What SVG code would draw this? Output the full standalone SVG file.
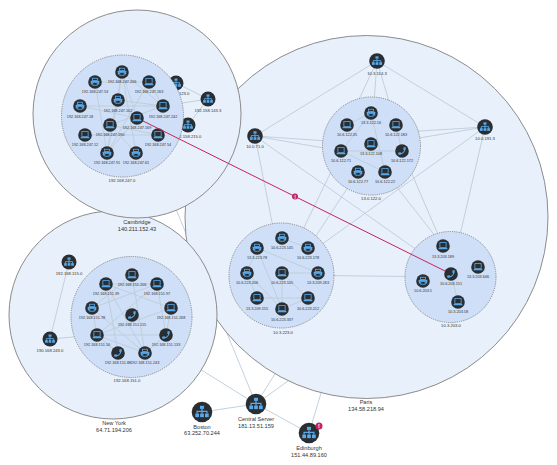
<svg xmlns="http://www.w3.org/2000/svg" width="557" height="465" viewBox="0 0 557 465">
<style>
text{font-family:"Liberation Sans",Arial,sans-serif;text-anchor:middle;fill:#333}
.s{font-size:3.8px}.m{font-size:4.2px}.l{font-size:5.6px}
.outer{fill:#e8f0fb;stroke:#8c8c8c;stroke-width:1}
.inner{fill:#cfdff7;stroke:#777;stroke-width:.8;stroke-dasharray:1.2 1}
.e{stroke:#bccdd8;stroke-width:.9;fill:none}
.dk{fill:#2b2e31}.ic{fill:#58a9ea}.icl{fill:none;stroke:#58a9ea;stroke-width:1.2}
.red{stroke:#c2255f;stroke-width:1;fill:none}
.badge{fill:#c2255f}.bt{fill:#fff;font-weight:bold}
</style>
<defs>
<g id="net"><circle class="dk" r="10"/><rect class="ic" x="-2" y="-6" width="4" height="3"/><path class="icl" d="M0-3V-.5M-4.800 1.500V-.5H4.800V1.500M0-.5V1.500"/><rect class="ic" x="-6.500" y="1.500" width="3.600" height="3.500"/><rect class="ic" x="-1.800" y="1.500" width="3.600" height="3.500"/><rect class="ic" x="2.900" y="1.500" width="3.600" height="3.500"/></g>
<g id="lap"><circle class="dk" r="10"/><rect class="icl" x="-4.600" y="-5" width="9.200" height="7.400"/><rect class="ic" x="-6.500" y="3" width="13" height="1.900" rx=".6"/></g>
<g id="prn"><circle class="dk" r="10"/><rect class="icl" x="-3.800" y="-5.500" width="7.600" height="3.200"/><rect class="ic" x="-6.200" y="-2" width="12.400" height="5.800" rx="1"/><rect x="-3.600" y="0" width="7.200" height="4.800" fill="#2b2e31"/><rect class="icl" x="-3.200" y=".6" width="6.400" height="4.200"/></g>
<g id="tel"><circle class="dk" r="10"/><path class="ic" transform="scale(-.62 .62) translate(-12 -12)" d="M6.620 10.790c1.440 2.830 3.760 5.140 6.590 6.590l2.200-2.200c.27-.27.67-.36 1.020-.24 1.120.37 2.330.57 3.570.57.55 0 1 .45 1 1V20c0 .55-.45 1-1 1-9.390 0-17-7.610-17-17 0-.55.45-1 1-1h3.500c.55 0 1 .45 1 1 0 1.250.2 2.450.57 3.570.11.35.03.74-.25 1.020l-2.200 2.200z"/></g>
</defs>

<g id="connectors-back">
<path class="e" d="M256 404L137 114M256 404L113 315M256 404L290 350M256 404L345 340M256 404L202 412M256 404L309 433M309 433L325 380"/>
</g>

<circle id="paris-group" class="outer" cx="366.500" cy="217" r="181.500"/>
<g id="paris-edges">
<path class="e" d="M377 61L255 136M377 61L485 127M377 61L347 125M377 61L371 144M377 61L396 125M485 127L371 134M485 127L341 151M485 127L282 273M485 127L451 274M255 136L371 144M255 136L341 151M255 136L282 273M255 136L451 274M341 151L282 273M358 172L308 248M385 172L443 246M402 151L443 246M282 275L451 277"/>
</g>
<circle id="paris-top" class="inner" cx="371.500" cy="146" r="49"/>
<circle id="paris-left" class="inner" cx="281.500" cy="275.500" r="52.500"/>
<circle id="paris-right" class="inner" cx="450.500" cy="277" r="45.500"/>
<g id="paris-inner-edges">
<path class="e" d="M371 113L385 172M371 113L341 151M396 125L402 151M341 151L402 151M341 151L385 172M347 125L371 113"/>
<path class="e" d="M282 238L308 248M257 248L318 273M257 248L282 309M247 273L282 309M247 273L257 248M282 273L318 273M282 273L308 298M282 273L282 309M257 298L308 298M257 298L247 273M282 309L308 298"/>
<path class="e" d="M451 274L458 302"/>
</g>

<circle id="newyork-group" class="outer" cx="113" cy="315" r="104"/>
<g id="newyork-edges"><path class="e" d="M50 339L69 262M50 339L97 335"/></g>
<circle id="newyork-inner" class="inner" cx="131.500" cy="317" r="60.500"/>
<g id="newyork-inner-edges"><path class="e" d="M106 284L157 284M106 284L171 308M106 284L118 353M92 308L132 275M92 308L145 353M97 335L166 335M97 335L145 353M97 335L157 284M97 335L171 308M92 308L97 335M132 275L145 353M157 284L166 335M171 308L166 335M92 308L157 284M118 353L97 335M106 284L145 353M145 353L166 335"/></g>

<circle id="cambridge-group" class="outer" cx="137" cy="114" r="104"/>
<g id="cambridge-edges"><path class="e" d="M176 83L208 99M208 99L188 125M208 99L163 106"/></g>
<g id="n-c1" transform="translate(176 83)"><use href="#net" transform="scale(.75)"/><text class="m" y="12">192.158.123.0</text></g>
<g id="n-c2" transform="translate(208 99)"><use href="#net" transform="scale(.75)"/><text class="m" y="13">192.158.143.3</text></g>
<g id="n-c3" transform="translate(188 125)"><use href="#net" transform="scale(.75)"/><text class="m" y="13">192.158.215.0</text></g>
<circle id="cambridge-inner" class="inner" cx="122.500" cy="116" r="61"/>
<g id="cambridge-inner-edges"><path class="e" d="M95 82L149 82M122 72L107 153M122 72L118 100M95 82L107 153M80 106L163 106M80 106L137 118M118 100L163 106M149 82L163 106M122 72L163 106M110 125L158 135M85 135L158 135M110 125L163 106M107 153L118 100M107 153L149 82M107 153L137 118M136 153L122 72M136 153L110 125M122 72L137 118"/></g>

<text class="l" x="137" y="224">Cambridge</text>
<text class="l" x="137" y="231">140.211.152.43</text>
<text class="l" x="114" y="425">New York</text>
<text class="l" x="114" y="432">64.71.194.206</text>
<text class="l" x="366" y="404">Paris</text>
<text class="l" x="366" y="411">134.58.218.94</text>
<text class="m" x="122" y="181.500">192.168.247.0</text>
<text class="m" x="127" y="381.500">192.168.151.0</text>
<text class="m" x="371" y="199.500">13.0.122.0</text>
<text class="m" x="283" y="333.500">10.3.223.0</text>
<text class="m" x="451" y="326.500">10.3.203.0</text>

<g id="n1" transform="translate(95 82)"><use href="#prn" transform="scale(.68)"/><text class="s" y="10.500">192.168.247.53</text></g>
<g id="n2" transform="translate(122 72)"><use href="#prn" transform="scale(.68)"/><text class="s" y="11">192.168.247.206</text></g>
<g id="n3" transform="translate(149 82)"><use href="#lap" transform="scale(.68)"/><text class="s" y="10.500">192.168.247.263</text></g>
<g id="n4" transform="translate(80 106)"><use href="#prn" transform="scale(.68)"/><text class="s" y="12">192.168.247.18</text></g>
<g id="n5" transform="translate(118 100)"><use href="#prn" transform="scale(.68)"/><text class="s" y="11.500">192.168.247.102</text></g>
<g id="n6" transform="translate(163 106)"><use href="#lap" transform="scale(.68)"/><text class="s" y="12">192.168.247.242</text></g>
<g id="n7" transform="translate(110 125)"><use href="#lap" transform="scale(.68)"/><text class="s" y="11">192.168.247.190</text></g>
<g id="n8" transform="translate(85 135)"><use href="#lap" transform="scale(.68)"/><text class="s" y="11">192.168.247.12</text></g>
<g id="n9" transform="translate(158 135)"><use href="#lap" transform="scale(.68)"/><text class="s" y="11">192.168.247.54</text></g>
<g id="n10" transform="translate(107 153)"><use href="#prn" transform="scale(.68)"/><text class="s" y="11">192.168.247.91</text></g>
<g id="n11" transform="translate(136 153)"><use href="#prn" transform="scale(.68)"/><text class="s" y="11">192.168.247.61</text></g>

<g id="n12" transform="translate(69 262)"><use href="#net" transform="scale(.75)"/><text class="m" y="12.500">192.168.115.0</text></g>
<g id="n13" transform="translate(50 339)"><use href="#net" transform="scale(.75)"/><text class="m" y="12.500">190.168.243.0</text></g>
<g id="n14" transform="translate(132 275)"><use href="#lap" transform="scale(.68)"/><text class="s" y="10.500">192.168.151.206</text></g>
<g id="n15" transform="translate(106 284)"><use href="#lap" transform="scale(.68)"/><text class="s" y="11">192.168.151.39</text></g>
<g id="n16" transform="translate(157 284)"><use href="#lap" transform="scale(.68)"/><text class="s" y="11">192.168.151.97</text></g>
<g id="n17" transform="translate(92 308)"><use href="#prn" transform="scale(.68)"/><text class="s" y="11">192.168.151.78</text></g>
<g id="n18" transform="translate(132 315)"><use href="#tel" transform="scale(.68)"/><text class="s" y="11">192.168.151.115</text></g>
<g id="n19" transform="translate(171 308)"><use href="#lap" transform="scale(.68)"/><text class="s" y="11">192.168.151.268</text></g>
<g id="n20" transform="translate(97 335)"><use href="#lap" transform="scale(.68)"/><text class="s" y="11">192.168.151.50</text></g>
<g id="n21" transform="translate(166 335)"><use href="#tel" transform="scale(.68)"/><text class="s" y="11">192.168.151.133</text></g>
<g id="n22" transform="translate(118 353)"><use href="#tel" transform="scale(.68)"/><text class="s" y="10.500">192.168.151.88</text></g>
<g id="n23" transform="translate(145 353)"><use href="#prn" transform="scale(.68)"/><text class="s" y="10.500">192.168.151.243</text></g>

<g id="n24" transform="translate(377 61)"><use href="#net" transform="scale(.78)"/><text class="m" y="13.500">10.3.114.3</text></g>
<g id="n25" transform="translate(485 127)"><use href="#net" transform="scale(.78)"/><text class="m" y="12.500">10.0.191.3</text></g>
<g id="n26" transform="translate(255 136)"><use href="#net" transform="scale(.78)"/><text class="m" y="12">10.0.71.0</text></g>

<g id="n27" transform="translate(371 113)"><use href="#prn" transform="scale(.68)"/><text class="s" y="10.500">13.3.122.16</text></g>
<g id="n28" transform="translate(347 125)"><use href="#lap" transform="scale(.68)"/><text class="s" y="11">10.6.122.35</text></g>
<g id="n29" transform="translate(396 125)"><use href="#lap" transform="scale(.68)"/><text class="s" y="11">10.6.122.183</text></g>
<g id="n30" transform="translate(371 144)"><use href="#lap" transform="scale(.68)"/><text class="s" y="11">13.3.122.108</text></g>
<g id="n31" transform="translate(341 151)"><use href="#lap" transform="scale(.68)"/><text class="s" y="11">10.6.122.71</text></g>
<g id="n32" transform="translate(402 151)"><use href="#tel" transform="scale(.68)"/><text class="s" y="11">10.6.122.172</text></g>
<g id="n33" transform="translate(358 172)"><use href="#prn" transform="scale(.68)"/><text class="s" y="11">10.6.122.77</text></g>
<g id="n34" transform="translate(385 172)"><use href="#lap" transform="scale(.68)"/><text class="s" y="11">10.6.122.22</text></g>

<g id="n35" transform="translate(282 238)"><use href="#prn" transform="scale(.68)"/><text class="s" y="11">10.6.223.145</text></g>
<g id="n36" transform="translate(257 248)"><use href="#prn" transform="scale(.68)"/><text class="s" y="11">13.3.223.78</text></g>
<g id="n37" transform="translate(308 248)"><use href="#prn" transform="scale(.68)"/><text class="s" y="11">10.6.223.178</text></g>
<g id="n38" transform="translate(247 273)"><use href="#prn" transform="scale(.68)"/><text class="s" y="11">10.6.223.206</text></g>
<g id="n39" transform="translate(282 273)"><use href="#lap" transform="scale(.68)"/><text class="s" y="11">10.6.223.105</text></g>
<g id="n40" transform="translate(318 273)"><use href="#prn" transform="scale(.68)"/><text class="s" y="11">13.3.209.263</text></g>
<g id="n41" transform="translate(257 298)"><use href="#lap" transform="scale(.68)"/><text class="s" y="12">13.3.209.155</text></g>
<g id="n42" transform="translate(308 298)"><use href="#lap" transform="scale(.68)"/><text class="s" y="12">10.6.223.212</text></g>
<g id="n43" transform="translate(282 309)"><use href="#lap" transform="scale(.68)"/><text class="s" y="11.500">10.6.223.337</text></g>

<g id="n44" transform="translate(443 246)"><use href="#lap" transform="scale(.68)"/><text class="s" y="12">13.3.203.189</text></g>
<g id="n45" transform="translate(478 267)"><use href="#lap" transform="scale(.68)"/><text class="s" y="11">13.3.203.646</text></g>
<g id="n46" transform="translate(423 281)"><use href="#prn" transform="scale(.68)"/><text class="s" y="11">10.6.203.5</text></g>
<g id="n47" transform="translate(458 302)"><use href="#lap" transform="scale(.68)"/><text class="s" y="11">10.3.203.58</text></g>

<g id="connector-alert">
<path class="red" d="M137 118L451 274"/>
<circle class="badge" cx="295" cy="196.500" r="3"/>
<text class="bt" x="295" y="198.500" font-size="5">!</text>
</g>
<g id="n48" transform="translate(137 118)"><use href="#lap" transform="scale(.68)"/><text class="s" y="11">192.168.247.169</text></g>
<g id="n49" transform="translate(451 274)"><use href="#tel" transform="scale(.68)"/><text class="s" y="11">10.6.203.151</text></g>

<g id="boston" transform="translate(202 412)"><use href="#net" transform="scale(1.03)"/><text class="l" y="16.500">Boston</text><text class="l" y="23">63.252.70.244</text></g>
<g id="central" transform="translate(256 404)"><use href="#net" transform="scale(1.03)"/><text class="l" y="17">Central Server</text><text class="l" y="24">181.13.51.159</text></g>
<g id="edinburgh" transform="translate(309 433)"><use href="#net" transform="scale(1.03)"/><text class="l" y="17">Edinburgh</text><text class="l" y="24">151.44.89.160</text><circle class="badge" cx="10" cy="-7" r="3.500"/><text class="bt" x="10" y="-5" font-size="5.500">!</text></g>
</svg>
